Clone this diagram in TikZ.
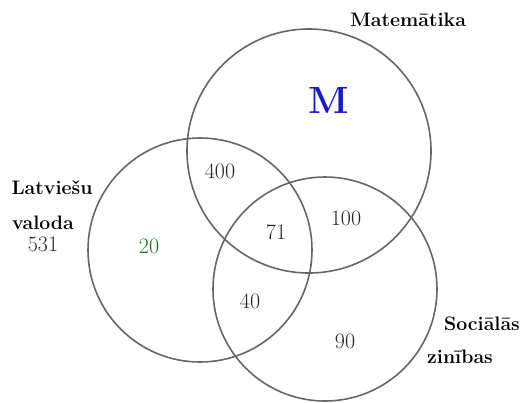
\documentclass[tikz,border=0pt]{standalone}
\usepackage{fontspec}
\begin{document}
\begin{tikzpicture}[x=1pt,y=-1pt,
  setcircle/.style={draw=black!60,line width=1.6pt},
  setlabel/.style={font=\fontsize{19.5}{22}\selectfont\bfseries,inner sep=0pt},
  count/.style={font=\fontsize{22}{24}\selectfont,inner sep=0pt,text=black!85}]
\useasboundingbox (0,0) rectangle (522,402);
\node[setcircle,circle,minimum size=244pt,inner sep=0pt] (math) at (309,151) {};
\node[setcircle,circle,minimum size=224pt,inner sep=0pt] (latv) at (200,250) {};
\node[setcircle,circle,minimum size=224pt,inner sep=0pt] (soc) at (325,289) {};
\node[setlabel] (lmath) at (408,20) {Matemātika};
\node[setlabel] (llatv1) at (52,188) {Latviešu};
\node[setlabel] (llatv2) at (43,223) {valoda};
\node[count] (n531) at (43,244) {531};
\node[setlabel] (lsoc1) at (482,324) {Sociālās};
\node[setlabel] (lsoc2) at (460,357) {zinības};
\node[font=\fontsize{38}{40}\selectfont\bfseries,text={rgb,255:red,20;green,25;blue,210},inner sep=0pt] (bigm) at (329,100) {M};
\node[count] (n400) at (220,171) {400};
\node[count,text={rgb,255:red,30;green,110;blue,30}] (n20) at (149,246) {20};
\node[count] (n71) at (276,232) {71};
\node[count] (n100) at (346,218) {100};
\node[count] (n40) at (250,301) {40};
\node[count] (n90) at (345,341) {90};
\end{tikzpicture}
\end{document}
